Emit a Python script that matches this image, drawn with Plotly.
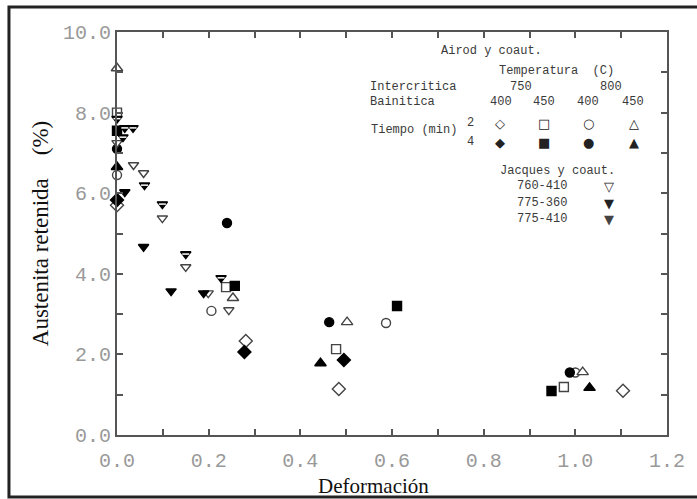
import plotly.graph_objects as go

# ---- data (Deformación, Austenita retenida %) ----
od_x = [0.0, 0.281, 0.484, 1.104]            # 750/400, 2 min (open diamond)
od_y = [5.70, 2.33, 1.14, 1.10]
fd_x = [0.0, 0.278, 0.495]                   # 750/400, 4 min (filled diamond)
fd_y = [5.83, 2.06, 1.86]
os_x = [0.0, 0.238, 0.478, 0.975]            # 750/450, 2 min (open square)
os_y = [8.00, 3.67, 2.13, 1.19]
fs_x = [0.0, 0.257, 0.611, 0.948]            # 750/450, 4 min (filled square)
fs_y = [7.55, 3.70, 3.20, 1.09]
oc_x = [0.0, 0.206, 0.587, 1.000]            # 800/400, 2 min (open circle)
oc_y = [6.45, 3.08, 2.78, 1.55]
fc_x = [0.0, 0.240, 0.463, 0.988]            # 800/400, 4 min (filled circle)
fc_y = [7.10, 5.26, 2.80, 1.55]
ot_x = [0.0, 0.253, 0.502, 1.016]            # 800/450, 2 min (open triangle)
ot_y = [9.10, 3.40, 2.80, 1.56]
ft_x = [0.0, 0.444, 1.031]                   # 800/450, 4 min (filled triangle)
ft_y = [6.65, 1.78, 1.17]
j1_x = [0.0, 0.036, 0.058, 0.099, 0.150, 0.199, 0.244]   # Jacques 760-410
j1_y = [7.25, 6.70, 6.50, 5.38, 4.17, 3.52, 3.10]
j2_x = [0.017, 0.058, 0.118, 0.189]                      # Jacques 775-360
j2_y = [6.03, 4.67, 3.57, 3.52]
j3_x = [0.0, 0.013, 0.017, 0.035, 0.060, 0.099, 0.150, 0.227]  # Jacques 775-410
j3_y = [7.85, 7.39, 7.62, 7.62, 6.20, 5.73, 4.49, 3.90]

x_ticks = [0.0, 0.2, 0.4, 0.6, 0.8, 1.0, 1.2]
y_ticks = [0.0, 2.0, 4.0, 6.0, 8.0, 10.0]

fig = go.Figure()

def add(xs, ys, symbol, filled, size=9):
    fig.add_trace(go.Scatter(
        x=xs, y=ys, mode="markers",
        marker=dict(symbol=symbol, size=size,
                    color="black" if filled else "white",
                    line=dict(color="black" if filled else "#444", width=1.4)),
        showlegend=False, cliponaxis=False))

add(od_x, od_y, "diamond", False, 10)
add(fd_x, fd_y, "diamond", True, 10)
add(os_x, os_y, "square", False, 9)
add(fs_x, fs_y, "square", True, 9)
add(oc_x, oc_y, "circle", False, 9)
add(fc_x, fc_y, "circle", True, 9)
add(ot_x, ot_y, "triangle-up", False, 10)
add(ft_x, ft_y, "triangle-up", True, 10)
add(j1_x, j1_y, "triangle-down", False, 9)
add(j2_x, j2_y, "triangle-down", True, 9)
add(j3_x, j3_y, "triangle-down", True, 9)
fig.add_trace(go.Scatter(x=j3_x, y=j3_y, mode="markers",
                         marker=dict(symbol="line-ew", size=5,
                                     line=dict(color="white", width=1.5)),
                         showlegend=False, cliponaxis=False))

# ---- legend block (text) ----
def px(x):
    return (x - 117) / 560.0

def py(y):
    return (435 - y) / 403.0

lf = dict(family="Liberation Mono", size=12, color="#3a3a3a")
def txt(t, x, y, anchor="center", f=None):
    fig.add_annotation(text=t, x=px(x), y=py(y), xref="paper", yref="paper",
                       xanchor=anchor, yanchor="middle", showarrow=False,
                       font=f or lf)

txt("Airod y coaut.", 445, 51, "left")
txt("Temperatura  (C)", 504, 71, "left")
txt("Intercritica", 373, 87, "left")
txt("750", 528, 87)
txt("800", 620, 87)
txt("Bainitica", 373, 102, "left")
for xx, t in [(508, "400"), (552, "450"), (597, "400"), (642, "450")]:
    txt(t, xx, 102)
txt("Tiempo (min)", 374, 130, "left")
txt("2", 477, 123)
txt("4", 477, 142)
sf = dict(family="DejaVu Sans", size=13, color="#222")
for xx, t in [(507, "◇"), (552, "□"), (597, "○"), (643, "△")]:
    txt(t, xx, 123, f=sf)
for xx, t in [(507, "◆"), (552, "■"), (597, "●"), (643, "▲")]:
    txt(t, xx, 142, f=sf)
txt("Jacques y coaut.", 505, 171, "left")
txt("760-410", 550, 186)
txt("775-360", 550, 203)
txt("775-410", 550, 219)
txt("▽", 618, 186, f=sf)
txt("▼", 618, 203, f=sf)
txt("▼", 618, 219, f=dict(family="DejaVu Sans", size=13, color="#444"))

# axis titles
txt("Deformación", 378, 486,
    f=dict(family="Liberation Serif", size=21, color="#111"))

# outer frame
fig.add_shape(type="rect", xref="paper", yref="paper",
              x0=px(7), x1=px(712), y0=py(497), y1=py(7),
              line=dict(color="#222", width=3), layer="below")

axis_common = dict(showline=True, linecolor="#555", linewidth=2, mirror="ticks",
                   ticks="inside", tickcolor="#555", ticklen=6, tickwidth=1.5,
                   showgrid=False, zeroline=False,
                   tickfont=dict(family="Liberation Mono", size=20, color="#999"))

fig.update_layout(
    width=697, height=499,
    margin=dict(l=117, r=20, t=32, b=64),
    paper_bgcolor="white", plot_bgcolor="white",
    xaxis=dict(range=[0, 1.2], tickvals=x_ticks,
               ticktext=[f"{v:.1f}" for v in x_ticks], ticklabelstandoff=6,
               minor=dict(dtick=0.1, ticks="inside", ticklen=6, tickcolor="#555"),
               **axis_common),
    yaxis=dict(range=[0, 10], tickvals=y_ticks,
               ticktext=[f"{v:.1f}" for v in y_ticks],
               minor=dict(dtick=1, ticks="inside", ticklen=6, tickcolor="#555"),
               title=dict(text="Austenita retenida    (%)", standoff=8,
                          font=dict(family="Liberation Serif", size=23, color="#111")),
               **axis_common),
)

fig.write_html("out.html")
